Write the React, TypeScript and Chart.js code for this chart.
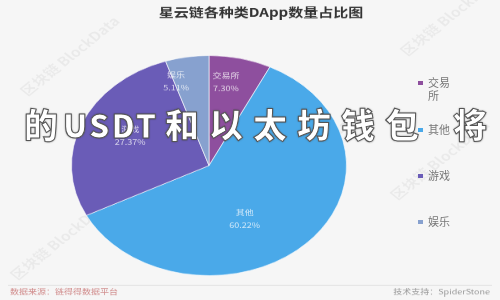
import React, { useEffect, useRef } from 'react';
import { Chart, registerables } from 'chart.js';

Chart.register(...registerables);

const categories = ['交易所', '其他', '游戏', '娱乐'];
const percentages = [7.3, 60.22, 27.37, 5.11];
const percentLabels = ['7.30%', '60.22%', '27.37%', '5.11%'];
const legendLines = [['交易', '所'], ['其他'], ['游戏'], ['娱乐']];
const sliceColors = ['#8e4f9e', '#4aa9e9', '#6a5cb7', '#87a1cf'];
const titleText = '星云链各种类DApp数量占比图';
const sourceText = '数据来源：链得得数据平台';
const supportText = '技术支持：SpiderStone';
const overlayLead = '的';
const overlayLatin = 'USDT';
const overlayMid = '和以太坊钱包';
const overlayEnd = '将';
const watermarkText = '区块链 BlockData';

const FONT = '"Noto Sans CJK SC", "Noto Sans", sans-serif';
const SY = 0.8; // vertical squash of the picture

const labelRadius = [0.77, 0.55, 0.634, 0.8];
const labelAngleShift = [-0.068, 0.3, 0.052, -0.143];
const legendTop = [76, 123, 169, 215];
const watermarkSpots = [
  [70, 70],
  [450, 20],
  [60, 300],
  [300, 200],
  [440, 200],
];

const decorPlugin = {
  id: 'decor',
  beforeDraw(chart: any) {
    const ctx = chart.ctx as CanvasRenderingContext2D;
    ctx.save();
    ctx.font = `bold 16px ${FONT}`;
    ctx.fillStyle = 'rgba(0,0,0,0.05)';
    ctx.textAlign = 'center';
    ctx.textBaseline = 'middle';
    watermarkSpots.forEach(([x, y]) => {
      ctx.save();
      ctx.translate(x, y);
      ctx.rotate(-Math.PI / 4);
      ctx.fillText(watermarkText, 0, 0);
      ctx.restore();
    });
    ctx.restore();
  },
  afterDraw(chart: any) {
    const ctx = chart.ctx as CanvasRenderingContext2D;
    ctx.save();
    // title
    ctx.fillStyle = '#333';
    ctx.font = `bold 15px ${FONT}`;
    ctx.textAlign = 'center';
    ctx.textBaseline = 'middle';
    ctx.fillText(titleText, 261, 15);

    // slice labels
    const meta = chart.getDatasetMeta(0);
    meta.data.forEach((arc: any, i: number) => {
      const p = arc.getProps(['x', 'y', 'startAngle', 'endAngle', 'outerRadius'], true);
      const mid = (p.startAngle + p.endAngle) / 2 + labelAngleShift[i];
      const r = p.outerRadius * labelRadius[i];
      const lx = p.x + Math.cos(mid) * r;
      const ly = p.y + Math.sin(mid) * r;
      ctx.fillStyle = 'rgba(255,255,255,0.75)';
      ctx.font = `9px ${FONT}`;
      ctx.textAlign = 'center';
      ctx.fillText(categories[i], lx, ly - 8);
      ctx.fillText(percentLabels[i], lx, ly + 8);
    });

    // footer
    ctx.strokeStyle = '#dcdcdc';
    ctx.lineWidth = 1;
    ctx.beginPath();
    ctx.moveTo(8, 356.5);
    ctx.lineTo(492, 356.5);
    ctx.stroke();
    ctx.font = `9px ${FONT}`;
    ctx.fillStyle = '#d08a8a';
    ctx.textAlign = 'left';
    ctx.fillText(sourceText, 10, 365);
    ctx.fillStyle = '#999';
    ctx.textAlign = 'right';
    ctx.fillText(supportText, 490, 365);
    ctx.restore();
  },
};

export default function App() {
  const ref = useRef<HTMLCanvasElement | null>(null);

  useEffect(() => {
    document.body.style.margin = '0';
    if (!ref.current) return;
    const chart = new Chart(ref.current, {
      type: 'pie',
      data: {
        labels: categories,
        datasets: [
          {
            data: percentages,
            backgroundColor: sliceColors,
            borderColor: 'rgba(255,255,255,0.6)',
            borderWidth: 1,
          },
        ],
      },
      options: {
        responsive: false,
        animation: false,
        layout: { padding: { left: 71, right: 153, top: 69, bottom: 30 } },
        plugins: {
          legend: { display: false },
          title: { display: false },
          tooltip: { enabled: false },
        },
      },
      plugins: [decorPlugin],
    });
    return () => chart.destroy();
  }, []);

  const overlayStyle: React.CSSProperties = {
    position: 'absolute',
    top: 104,
    whiteSpace: 'nowrap',
    fontFamily: FONT,
    fontWeight: 900,
    fontSize: 34,
    color: '#fff',
    WebkitTextStroke: '1px #555',
    textShadow: '0 0 2px #333',
    lineHeight: '40px',
  };

  return (
    <div
      style={{
        position: 'relative',
        width: 500,
        height: 300,
        overflow: 'hidden',
        background: '#f6f6f6',
      }}
    >
      <div
        style={{
          position: 'absolute',
          left: 0,
          top: 0,
          width: 500,
          height: 375,
          transform: `scaleY(${SY})`,
          transformOrigin: '0 0',
        }}
      >
        <canvas ref={ref} width={500} height={375} style={{ width: 500, height: 375 }} />
      </div>
      <div style={{ ...overlayStyle, left: 24 }}>{overlayLead}</div>
      <div style={{ ...overlayStyle, left: 63, letterSpacing: 2, fontSize: 32 }}>{overlayLatin}</div>
      <div style={{ ...overlayStyle, left: 165, letterSpacing: 10 }}>{overlayMid}</div>
      <div style={{ ...overlayStyle, left: 453 }}>{overlayEnd}</div>
      {legendLines.map((lines, i) => (
        <div
          key={categories[i]}
          style={{
            position: 'absolute',
            left: 418,
            top: legendTop[i],
            display: 'flex',
            alignItems: 'flex-start',
            fontFamily: FONT,
            fontSize: 11,
            lineHeight: '13px',
            color: '#777',
          }}
        >
          <span
            style={{
              display: 'inline-block',
              width: 5,
              height: 4,
              marginTop: 5,
              marginRight: 5,
              background: sliceColors[i],
            }}
          />
          <span>
            {lines.map((t) => (
              <div key={t}>{t}</div>
            ))}
          </span>
        </div>
      ))}
    </div>
  );
}
